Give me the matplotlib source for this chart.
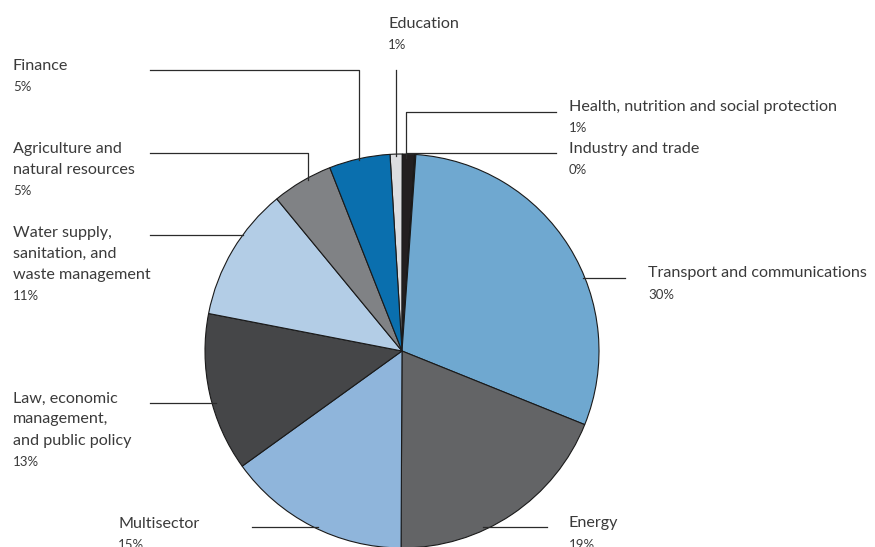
import matplotlib.pyplot as plt

plt.rcParams['font.family'] = ['Lato', 'DejaVu Sans']

# sectors, clockwise from just left of 12 o'clock
sectors = ["Education", "Health, nutrition and social protection", "Industry and trade",
           "Transport and communications", "Energy", "Multisector",
           "Law, economic\nmanagement,\nand public policy",
           "Water supply,\nsanitation, and\nwaste management",
           "Agriculture and\nnatural resources", "Finance"]
shares = [1, 1, 0.1, 30, 19, 15, 13, 11, 5, 5]
pct_labels = ["1%", "1%", "0%", "30%", "19%", "15%", "13%", "11%", "5%", "5%"]
colors = ["#dcdde0", "#231f20", "#231f20", "#6fa8d0", "#636466", "#8fb5db",
          "#454648", "#b3cde6", "#808285", "#0a6fae"]

W, H = 875, 547
fig = plt.figure(figsize=(W / 100, H / 100), dpi=100)

cx, cy, r = 402, 351, 197
ax = fig.add_axes([(cx - r) / W, (H - cy - r) / H, 2 * r / W, 2 * r / H])
ax.pie(shares, colors=colors, startangle=93.5, counterclock=False,
       wedgeprops=dict(edgecolor="#1a1a1a", linewidth=0.8))
ax.set_xlim(-1, 1)
ax.set_ylim(-1, 1)
ax.axis("off")

# overlay in pixel coordinates for labels and leader lines
ov = fig.add_axes([0, 0, 1, 1], zorder=5)
ov.set_xlim(0, W)
ov.set_ylim(H, 0)
ov.axis("off")
ov.patch.set_alpha(0)

# (text x, text center y of first line, leader path)
layout = {
    "Education": (388, 22, [(396, 70), (396, 156)]),
    "Health, nutrition and social protection": (569, 105, [(406, 158), (406, 112), (556, 112)]),
    "Industry and trade": (569, 147, [(406, 153), (556, 153)]),
    "Transport and communications": (648, 272, [(583, 278), (625, 278)]),
    "Energy": (569, 522, [(483, 527), (547, 527)]),
    "Multisector": (118, 522, [(252, 527), (318, 527)]),
    "Law, economic\nmanagement,\nand public policy": (13, 397, [(150, 403), (216, 403)]),
    "Water supply,\nsanitation, and\nwaste management": (13, 231, [(150, 235), (243, 235)]),
    "Agriculture and\nnatural resources": (13, 147, [(150, 153), (308, 153), (308, 180)]),
    "Finance": (13, 64, [(150, 70), (359, 70), (359, 160)]),
}

txt_color = "#3a3a3a"
line_h = 21
for name, pct in zip(sectors, pct_labels):
    tx, ty, path = layout[name]
    n = name.count("\n") + 1
    for i, line in enumerate(name.split("\n")):
        ov.text(tx, ty + i * line_h, line, fontsize=11.6, color=txt_color,
                va="center_baseline", ha="left")
    ov.text(tx, ty + n * line_h + 1, pct, fontsize=9.5, color=txt_color,
            va="center_baseline", ha="left")
    xs = [p[0] for p in path]
    ys = [p[1] for p in path]
    ov.plot(xs, ys, color="#2b2b2b", lw=0.9)

fig.savefig("out.png", dpi=100)
